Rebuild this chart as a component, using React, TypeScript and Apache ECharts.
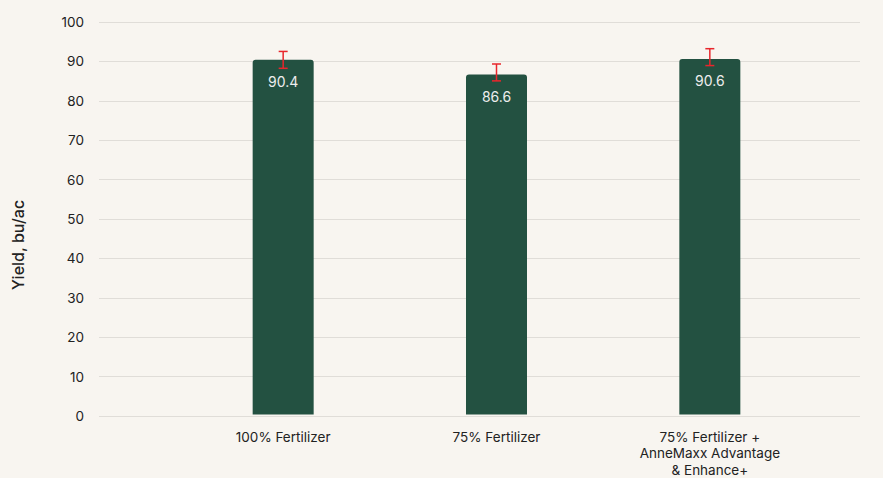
import React, { useEffect, useRef } from "react";
import * as echarts from "echarts";

const categories = ["100% Fertilizer", "75% Fertilizer", "75% Fertilizer +\nAnneMaxx Advantage\n& Enhance+"];
const yields = [90.4, 86.6, 90.6];
const errLow = [88.2, 85.0, 88.9];
const errHigh = [92.5, 89.3, 93.2];
const yTitle = "Yield, bu/ac";

export default function App() {
  const ref = useRef<HTMLDivElement>(null);
  useEffect(() => {
    if (!ref.current) return;
    const chart = echarts.init(ref.current, null, { renderer: "svg" });
    const font = "Inter, 'Noto Sans', sans-serif";
    chart.setOption({
      animation: false,
      backgroundColor: "#F8F5F0",
      textStyle: { fontFamily: font },
      grid: [
        { left: 99, right: 23, top: 22, bottom: 62 },
        { left: 176.5, right: 66.5, top: 22, bottom: 62 },
      ],
      graphic: [
        {
          type: "text",
          x: 18,
          y: 245,
          rotation: Math.PI / 2,
          style: {
            text: yTitle,
            fill: "#222",
            font: `500 16px ${font}`,
            align: "center",
            verticalAlign: "middle",
          },
        },
      ],
      xAxis: [
        { gridIndex: 0, type: "category", data: ["a"], show: false },
        {
          gridIndex: 1,
          type: "category",
          data: categories,
          axisLine: { show: false },
          axisTick: { show: false },
          axisLabel: { color: "#222", fontSize: 13.5, margin: 14, lineHeight: 16.5, fontFamily: font },
        },
      ],
      yAxis: [
        {
          gridIndex: 0,
          type: "value",
          min: 0,
          max: 100,
          interval: 10,
          axisLine: { show: false },
          axisTick: { show: false },
          axisLabel: { color: "#222", fontSize: 13.5, margin: 15, fontFamily: font },
          splitLine: { lineStyle: { color: "#E0DDD8", width: 1 } },
        },
        { gridIndex: 1, type: "value", min: 0, max: 100, interval: 10, show: false, splitLine: { show: false } },
      ],
      series: [
        {
          type: "bar",
          xAxisIndex: 1,
          yAxisIndex: 1,
          data: yields,
          barWidth: 61,
          itemStyle: { color: "#235141", borderRadius: [3, 3, 0, 0] },
          label: {
            show: true,
            position: "insideTop",
            distance: 15,
            color: "#EDEDED",
            fontSize: 14,
            fontFamily: font,
            formatter: (p: any) => p.value.toFixed(1),
          },
        },
        {
          type: "custom",
          xAxisIndex: 1,
          yAxisIndex: 1,
          data: categories.map((_, i) => [i, errLow[i], errHigh[i]]),
          z: 10,
          renderItem: (params: any, api: any) => {
            const x = api.value(0);
            const lo = api.coord([x, api.value(1)]);
            const hi = api.coord([x, api.value(2)]);
            const hw = 4.5;
            const style = { stroke: "#E8262C", lineWidth: 1.5 };
            return {
              type: "group",
              children: [
                { type: "line", shape: { x1: lo[0], y1: lo[1], x2: hi[0], y2: hi[1] }, style },
                { type: "line", shape: { x1: lo[0] - hw, y1: lo[1], x2: lo[0] + hw, y2: lo[1] }, style },
                { type: "line", shape: { x1: hi[0] - hw, y1: hi[1], x2: hi[0] + hw, y2: hi[1] }, style },
              ],
            };
          },
        },
      ],
    });
    return () => chart.dispose();
  }, []);
  return <div ref={ref} style={{ position: "fixed", left: 0, top: 0, width: 883, height: 478 }} />;
}
